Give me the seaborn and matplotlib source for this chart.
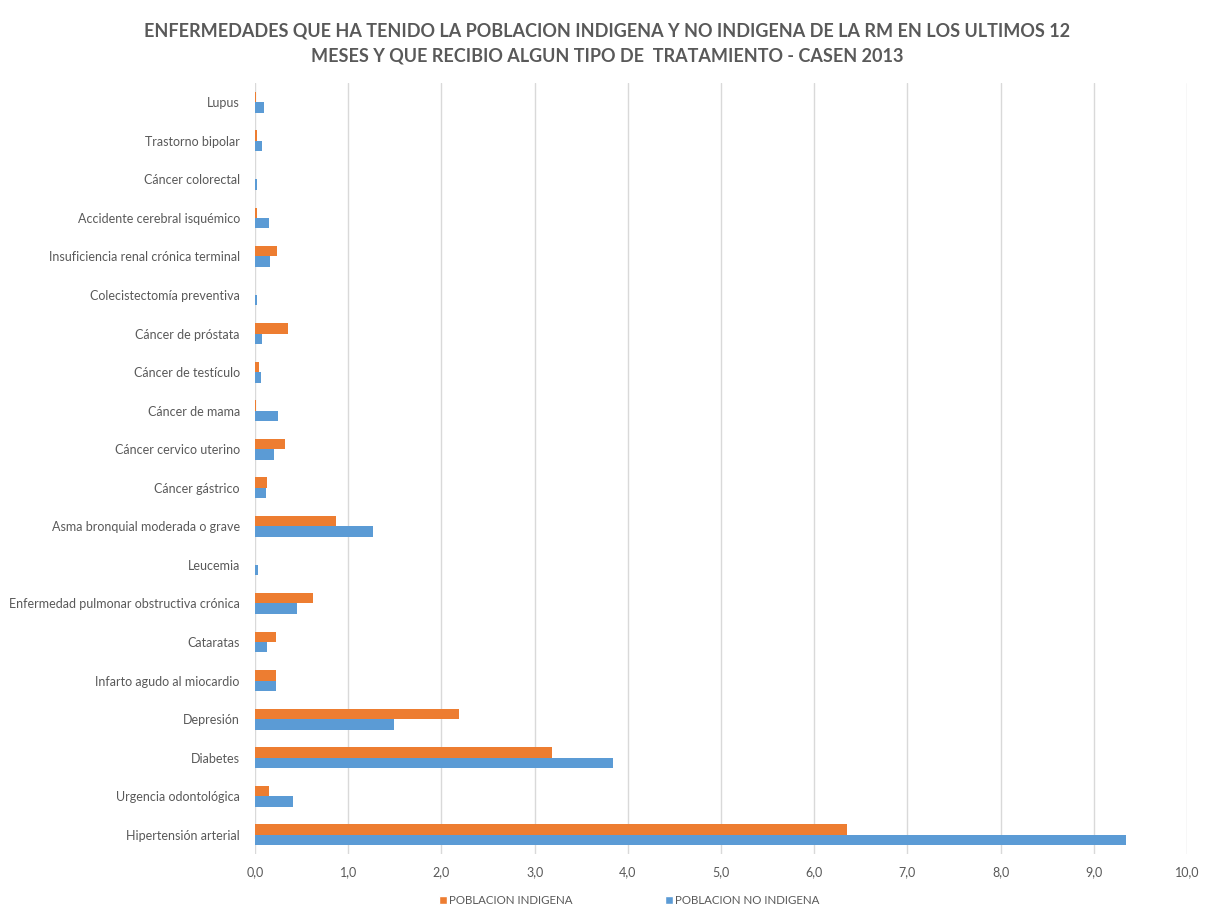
import matplotlib
matplotlib.use("Agg")
import matplotlib.pyplot as plt
import seaborn as sns
import pandas as pd
from matplotlib.ticker import FuncFormatter
from matplotlib.patches import Patch

categories = [
    "Lupus", "Trastorno bipolar", "Cáncer colorectal", "Accidente cerebral isquémico",
    "Insuficiencia renal crónica terminal", "Colecistectomía preventiva",
    "Cáncer de próstata", "Cáncer de testículo", "Cáncer de mama",
    "Cáncer cervico uterino", "Cáncer gástrico", "Asma bronquial moderada o grave",
    "Leucemia", "Enfermedad pulmonar obstructiva crónica", "Cataratas",
    "Infarto agudo al miocardio", "Depresión", "Diabetes", "Urgencia odontológica",
    "Hipertensión arterial",
]
indigena = [0.015, 0.02, 0.0, 0.02, 0.24, 0.0, 0.35, 0.045, 0.015, 0.32, 0.13, 0.87,
            0.0, 0.62, 0.23, 0.23, 2.19, 3.19, 0.15, 6.35]
no_indigena = [0.10, 0.07, 0.02, 0.15, 0.16, 0.02, 0.07, 0.06, 0.25, 0.20, 0.12, 1.27,
               0.035, 0.45, 0.13, 0.22, 1.49, 3.84, 0.41, 9.34]
series_names = ["POBLACION INDIGENA", "POBLACION NO INDIGENA"]
colors = ["#ED7D31", "#5B9BD5"]
title = ("ENFERMEDADES QUE HA TENIDO LA POBLACION INDIGENA Y NO INDIGENA DE LA RM EN LOS ULTIMOS 12\n"
         "MESES Y QUE RECIBIO ALGUN TIPO DE  TRATAMIENTO - CASEN 2013")

df = pd.DataFrame({
    "cat": categories * 2,
    "val": indigena + no_indigena,
    "serie": [series_names[0]] * len(categories) + [series_names[1]] * len(categories),
})

sns.set_theme(style="white")
plt.rcParams["font.family"] = ["Lato", "DejaVu Sans"]

fig = plt.figure(figsize=(12.15, 9.21), dpi=100)
ax = fig.add_axes([0.2099, 0.0727, 0.7671, 0.8372])

sns.barplot(data=df, y="cat", x="val", hue="serie", order=categories,
            hue_order=series_names, palette=colors, orient="h",
            width=0.54, gap=0, saturation=1, errorbar=None, legend=False, ax=ax,
            linewidth=0)

ax.set_xlim(0, 10)
ax.set_xticks(range(0, 11))
ax.xaxis.set_major_formatter(FuncFormatter(lambda v, p: f"{v:.1f}".replace(".", ",")))
ax.grid(axis="x", color="#D9D9D9", linewidth=1)
ax.set_axisbelow(True)
for s in ax.spines.values():
    s.set_visible(False)
ax.tick_params(axis="both", length=0, labelsize=9, colors="#595959")
ax.tick_params(axis="y", pad=11)
ax.tick_params(axis="x", pad=9)
ax.set_xlabel("")
ax.set_ylabel("")

fig.text(0.5, 0.953, title, ha="center", va="center", fontsize=13,
         fontweight="bold", color="#595959", linespacing=1.6)

handles = [Patch(facecolor=c, label=n) for c, n in zip(colors, series_names)]
fig.legend(handles=handles, loc="center", bbox_to_anchor=(0.518, 0.022), ncol=2,
           frameon=False, fontsize=8.3, labelcolor="#595959", handlelength=0.7,
           handleheight=0.7, handletextpad=0.2, columnspacing=8)

fig.savefig("out.png", dpi=100)
